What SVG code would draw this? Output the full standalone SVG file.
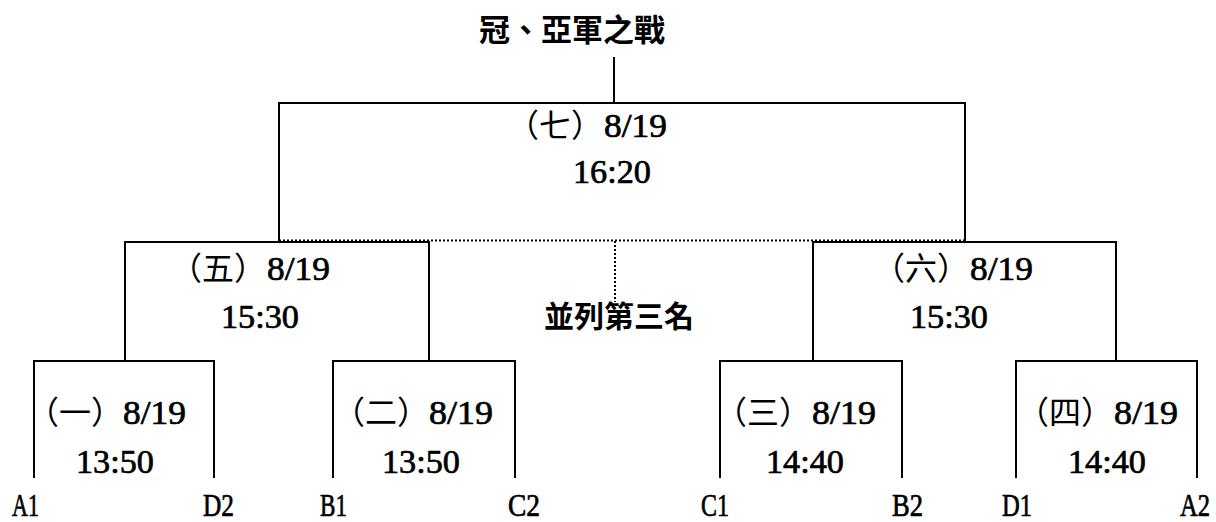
<svg xmlns="http://www.w3.org/2000/svg" width="1216" height="522" viewBox="0 0 1216 522">
<style>
.ln{fill:none;stroke:#000;stroke-width:2}
.dot{fill:none;stroke:#000;stroke-width:2;stroke-dasharray:2 2}
.cj{font-family:"Noto Sans CJK TC","Noto Sans CJK SC",sans-serif;font-size:32px;fill:#000}
.hd{font-family:"Noto Sans CJK TC","Noto Sans CJK SC",sans-serif;font-weight:bold;fill:#000;text-anchor:middle}
text.lb, text.nm{font-family:"Liberation Serif","Times New Roman",serif;fill:#000;stroke:#000;stroke-width:0.7}
text.nm{font-size:34px}
text.lb{font-size:31px}
</style>
<rect width="1216" height="522" fill="#fff"/>
<g id="connectors">
<path class="ln" d="M614 57V103"/>
<path class="ln" d="M279 241V103H965V241"/>
<path class="dot" d="M279 240.5H965"/>
<path class="dot" d="M615 241V302"/>
<path class="ln" d="M125 361V242H429V361"/>
<path class="ln" d="M813 361V242H1116V361"/>
<path class="ln" d="M34 478V361H214V478"/>
<path class="ln" d="M333 478V361H515V478"/>
<path class="ln" d="M720 478V361H902V478"/>
<path class="ln" d="M1016 478V361H1197V478"/>
</g>
<g id="title"><text class="hd" x="572" y="41" font-size="31">冠、亞軍之戰</text></g>
<g id="third-place"><text class="hd" x="619" y="327" font-size="30">並列第三名</text></g>
<g id="match7">
<text class="cj" x="507" y="137">（七）</text>
<text class="nm" x="604" y="137" textLength="63" lengthAdjust="spacingAndGlyphs">8/19</text>
<text class="nm" x="573" y="183" textLength="78" lengthAdjust="spacingAndGlyphs">16:20</text>
</g>
<g id="match5">
<text class="cj" x="170" y="280">（五）</text>
<text class="nm" x="267" y="280" textLength="63" lengthAdjust="spacingAndGlyphs">8/19</text>
<text class="nm" x="221" y="328" textLength="78" lengthAdjust="spacingAndGlyphs">15:30</text>
</g>
<g id="match6">
<text class="cj" x="873" y="280">（六）</text>
<text class="nm" x="970" y="280" textLength="63" lengthAdjust="spacingAndGlyphs">8/19</text>
<text class="nm" x="910" y="328" textLength="78" lengthAdjust="spacingAndGlyphs">15:30</text>
</g>
<g id="match1">
<text class="cj" x="27" y="424">（一）</text>
<text class="nm" x="123" y="424" textLength="63" lengthAdjust="spacingAndGlyphs">8/19</text>
<text class="nm" x="76" y="473" textLength="78" lengthAdjust="spacingAndGlyphs">13:50</text>
</g>
<g id="match2">
<text class="cj" x="333" y="424">（二）</text>
<text class="nm" x="429" y="424" textLength="64" lengthAdjust="spacingAndGlyphs">8/19</text>
<text class="nm" x="382" y="473" textLength="78" lengthAdjust="spacingAndGlyphs">13:50</text>
</g>
<g id="match3">
<text class="cj" x="715" y="424">（三）</text>
<text class="nm" x="812" y="424" textLength="64" lengthAdjust="spacingAndGlyphs">8/19</text>
<text class="nm" x="766" y="473" textLength="78" lengthAdjust="spacingAndGlyphs">14:40</text>
</g>
<g id="match4">
<text class="cj" x="1017" y="424">（四）</text>
<text class="nm" x="1114" y="424" textLength="64" lengthAdjust="spacingAndGlyphs">8/19</text>
<text class="nm" x="1068" y="473" textLength="78" lengthAdjust="spacingAndGlyphs">14:40</text>
</g>
<g id="team-A1"><text class="lb" x="12" y="516" textLength="27" lengthAdjust="spacingAndGlyphs">A1</text></g>
<g id="team-D2"><text class="lb" x="203" y="516" textLength="31" lengthAdjust="spacingAndGlyphs">D2</text></g>
<g id="team-B1"><text class="lb" x="320" y="516" textLength="27" lengthAdjust="spacingAndGlyphs">B1</text></g>
<g id="team-C2"><text class="lb" x="508" y="516" textLength="32" lengthAdjust="spacingAndGlyphs">C2</text></g>
<g id="team-C1"><text class="lb" x="701" y="516" textLength="28" lengthAdjust="spacingAndGlyphs">C1</text></g>
<g id="team-B2"><text class="lb" x="892" y="516" textLength="31" lengthAdjust="spacingAndGlyphs">B2</text></g>
<g id="team-D1"><text class="lb" x="1002" y="516" textLength="30" lengthAdjust="spacingAndGlyphs">D1</text></g>
<g id="team-A2"><text class="lb" x="1180" y="516" textLength="30" lengthAdjust="spacingAndGlyphs">A2</text></g>
</svg>
